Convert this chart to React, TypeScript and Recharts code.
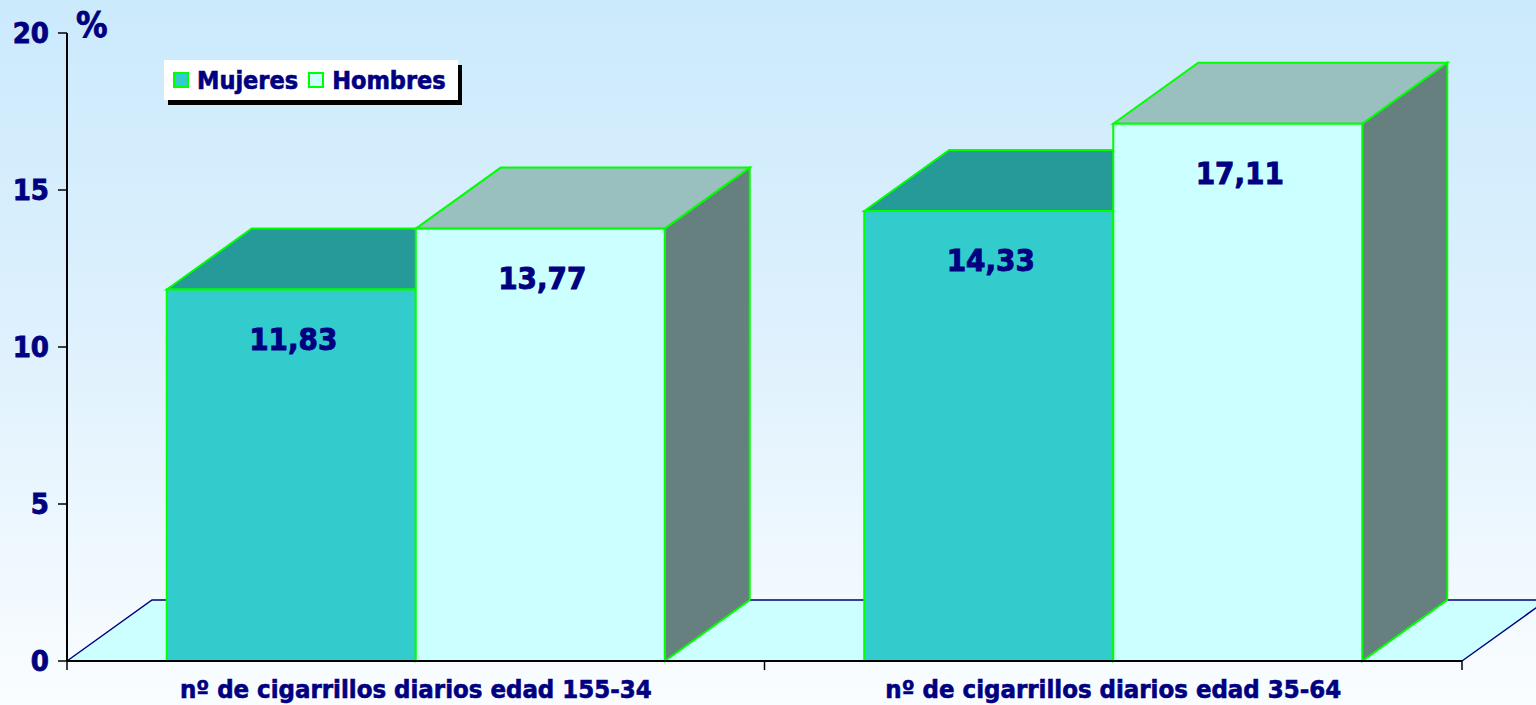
import React from 'react';
import { BarChart, Bar, XAxis, YAxis, ReferenceArea, Legend, LabelList, Label } from 'recharts';

const categories = ['nº de cigarrillos diarios edad 155-34', 'nº de cigarrillos diarios edad 35-64'];
const mujeres = [11.83, 14.33];
const hombres = [13.77, 17.11];
const yTicks = [0, 5, 10, 15, 20];
const seriesNames = ['Mujeres', 'Hombres'];

const data = categories.map((c, i) => ({ name: c, Mujeres: mujeres[i], Hombres: hombres[i] }));

const DX = 85;
const DY = 61;
const NAVY = '#000080';
const GREEN = '#00FF00';
const FONT = "'DejaVu Sans Condensed', 'DejaVu Sans', sans-serif";

const colors = {
  Mujeres: { front: '#33CCCC', top: '#269999', side: '#1F7F7F' },
  Hombres: { front: '#CCFFFF', top: '#99BFBF', side: '#667F7F' },
};

function make3D(c: { front: string; top: string; side: string }) {
  return (props: any) => {
    const { x, y, width, height } = props;
    if (width == null || height == null) return null;
    const r = x + width;
    const b = y + height;
    return (
      <g>
        <polygon
          points={`${r},${y} ${r + DX},${y - DY} ${r + DX},${b - DY} ${r},${b}`}
          fill={c.side}
          stroke={GREEN}
          strokeWidth={2}
        />
        <polygon
          points={`${x},${y} ${x + DX},${y - DY} ${r + DX},${y - DY} ${r},${y}`}
          fill={c.top}
          stroke={GREEN}
          strokeWidth={2}
        />
        <rect x={x} y={y} width={width} height={height} fill={c.front} stroke={GREEN} strokeWidth={2} />
      </g>
    );
  };
}

const Floor = (props: any) => {
  const { x, y, width, height } = props;
  const b = y + height;
  const r = x + width;
  const n = categories.length;
  return (
    <g>
      <polygon points={`${x},${b} ${x + DX},${b - DY} ${r + DX},${b - DY} ${r},${b}`} fill="#CCFFFF" stroke="none" />
      <polyline
        points={`${x},${b} ${x + DX},${b - DY} ${r + DX},${b - DY} ${r},${b}`}
        fill="none"
        stroke={NAVY}
        strokeWidth={1.5}
      />
      {Array.from({ length: n + 1 }).map((_, i) => (
        <line key={i} x1={x + (i * width) / n} x2={x + (i * width) / n} y1={b} y2={b + 9} stroke="#000" strokeWidth={1.5} />
      ))}
    </g>
  );
};

const ValueLabel = (props: any) => {
  const { x, y, width, value } = props;
  return (
    <text
      x={x + width / 2 + 2}
      y={y + 60}
      textAnchor="middle"
      fill={NAVY}
      stroke={NAVY}
      strokeWidth={0.9}
      fontFamily={FONT}
      fontWeight="bold"
      fontSize={31}
    >
      {Number(value).toFixed(2).replace('.', ',')}
    </text>
  );
};

const LegendBox = () => (
  <div
    style={{
      background: '#fff',
      boxShadow: '4px 5px 0 #000',
      width: 294,
      height: 40,
      display: 'flex',
      alignItems: 'center',
      paddingLeft: 9,
      boxSizing: 'border-box',
      fontFamily: FONT,
      fontWeight: 'bold',
      fontSize: 25,
      color: NAVY,
      whiteSpace: 'nowrap',
      WebkitTextStroke: `0.6px ${NAVY}`,
    } as any}
  >
    {seriesNames.map((s) => (
      <span key={s} style={{ display: 'inline-flex', alignItems: 'center', marginRight: 10 }}>
        <span
          style={{
            display: 'inline-block',
            width: 12,
            height: 12,
            background: (colors as any)[s].front,
            border: `2px solid ${GREEN}`,
            marginRight: 8,
          }}
        />
        {s}
      </span>
    ))}
  </div>
);

const PercentLabel = (props: any) => {
  const vb = props.viewBox || { x: 0, y: 33, width: 67, height: 628 };
  return (
    <text
      x={vb.x + vb.width + 9}
      y={vb.y + 4}
      fill={NAVY}
      stroke={NAVY}
      strokeWidth={0.8}
      fontFamily={FONT}
      fontWeight="bold"
      fontSize={35}
    >
      %
    </text>
  );
};

export default function App() {
  return (
    <div
      style={{
        position: 'absolute',
        left: 0,
        top: 0,
        width: 1536,
        height: 705,
        background: 'linear-gradient(to bottom, #CBEAFC 0%, #DDF0FD 45%, #FAFDFF 100%)',
        overflow: 'hidden',
      }}
    >
      <BarChart
        width={1536}
        height={705}
        data={data}
        margin={{ top: 33, right: 74, bottom: 0, left: 0 }}
        barCategoryGap="14.3%"
        barGap={0}
      >
        <ReferenceArea y1={0} y2={20} shape={<Floor />} ifOverflow="visible" />
        <XAxis
          dataKey="name"
          height={44}
          interval={0}
          tickLine={false}
          tickSize={8}
          tickMargin={11}
          axisLine={{ stroke: '#000', strokeWidth: 2 }}
          tick={{ fill: NAVY, stroke: NAVY, strokeWidth: 0.6, fontSize: 25.5, fontWeight: 'bold', fontFamily: FONT }}
        />
        <YAxis
          domain={[0, 20]}
          ticks={yTicks}
          interval={0}
          width={67}
          tickSize={9}
          tickMargin={9}
          axisLine={{ stroke: '#000', strokeWidth: 2 }}
          tickLine={{ stroke: '#000', strokeWidth: 1.5 }}
          tick={{ fill: NAVY, stroke: NAVY, strokeWidth: 0.8, fontSize: 29, fontWeight: 'bold', fontFamily: FONT }}
        >
          <Label content={<PercentLabel />} />
        </YAxis>
        <Legend
          verticalAlign="middle"
          align="center"
          layout="horizontal"
          wrapperStyle={{ left: 164, top: 60, width: 'auto', height: 'auto' }}
          content={<LegendBox />}
        />
        <Bar dataKey="Mujeres" isAnimationActive={false} shape={make3D(colors.Mujeres)}>
          <LabelList dataKey="Mujeres" content={<ValueLabel />} />
        </Bar>
        <Bar dataKey="Hombres" isAnimationActive={false} shape={make3D(colors.Hombres)}>
          <LabelList dataKey="Hombres" content={<ValueLabel />} />
        </Bar>
      </BarChart>
    </div>
  );
}
